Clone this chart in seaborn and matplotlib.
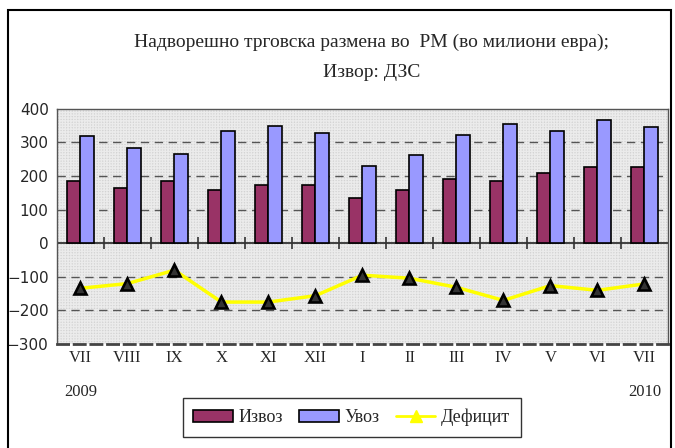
import numpy as np
import pandas as pd
import seaborn as sns
import matplotlib.pyplot as plt
from matplotlib.patches import Rectangle, Patch
from matplotlib.lines import Line2D

sns.set_style('white')

months = ['VII\n2009', 'VIII', 'IX', 'X', 'XI', 'XII', 'I', 'II', 'III',
          'IV', 'V', 'VI', 'VII\n2010']
izvoz = [186, 163, 186, 159, 173, 173, 136, 159, 190, 186, 208, 226, 226]
uvoz = [320, 283, 266, 334, 348, 329, 231, 263, 321, 356, 334, 366, 347]
deficit = [-134, -120, -80, -175, -175, -156, -95, -104, -131, -170, -126, -140, -121]

serif = 'Liberation Serif'
sans = 'DejaVu Sans'

df = pd.DataFrame({'month': months, 'Извоз': izvoz, 'Увоз': uvoz})
df = df.melt(id_vars='month', var_name='serija', value_name='vrednost')
df_def = pd.DataFrame({'month': months, 'deficit': deficit})

fig = plt.figure(figsize=(6.75, 4.48), dpi=100)
ax = fig.add_axes([0.0844, 0.232, 0.905, 0.525])

# textured grey background
ax.patch.set_facecolor('#d3d3d3')
ax.add_patch(Rectangle((0, 0), 1, 1, transform=ax.transAxes, facecolor='none',
                       edgecolor='#ebebeb', hatch='++++++', linewidth=0, zorder=0))

for y in [300, 200, 100, -100, -200]:
    ax.axhline(y, color='#555555', linestyle=(0, (6, 4)), linewidth=1.0, zorder=1)

sns.barplot(data=df, x='month', y='vrednost', hue='serija', order=months,
            palette=['#993366', '#9999ff'], width=0.58, edgecolor='black',
            linewidth=1.2, saturation=1, ax=ax, zorder=3, legend=False)

sns.pointplot(data=df_def, x='month', y='deficit', order=months, color='#ffff00',
              markers='^', linestyles='-', errorbar=None, ax=ax,
              markerfacecolor='#333333', markeredgecolor='black',
              markersize=8, linewidth=2.5, zorder=4)

ax.axhline(0, color='#333333', linewidth=1.3, zorder=2)
ax.set_xlim(-0.5, len(months) - 0.5)
ax.set_ylim(-300, 400)
ax.set_yticks([-300, -200, -100, 0, 100, 200, 300, 400])
ax.set_xlabel('')
ax.set_ylabel('')

for lab in ax.get_yticklabels():
    lab.set_fontfamily(sans)
    lab.set_fontsize(11)
ax.tick_params(axis='y', length=0, pad=6)
ax.tick_params(axis='x', length=0, pad=4)
ax.set_xticks(range(len(months)))
ax.set_xticklabels(months, fontfamily=serif, fontsize=12, linespacing=2.5,
                   va='top')

# separator ticks on the zero line
sec = ax.secondary_xaxis(3 / 7)
sec.set_xticks(np.arange(len(months) - 1) + 0.5)
sec.set_xticklabels([])
sec.tick_params(direction='inout', length=9, width=1.2, color='#333333')
sec.spines['bottom'].set_visible(False)
sec.spines['top'].set_visible(False)

for s in ['top', 'right', 'left']:
    ax.spines[s].set_color('#555555')
    ax.spines[s].set_linewidth(1)
ax.spines['bottom'].set_color('#444444')
ax.spines['bottom'].set_linewidth(2)
ax.spines['bottom'].set_linestyle((0, (4, 2)))

fig.text(0.551, 0.905, 'Надворешно трговска размена во  РМ (во милиони евра);',
         ha='center', va='center', fontfamily=serif, fontsize=14)
fig.text(0.551, 0.838, 'Извор: ДЗС', ha='center', va='center',
         fontfamily=serif, fontsize=14)

# outer frame
fig.patches.append(Rectangle((8 / 675, -0.05), 663 / 675, 1 - 10 / 448 + 0.05,
                             transform=fig.transFigure, fill=False,
                             edgecolor='black', linewidth=1.5))

handles = [Patch(facecolor='#993366', edgecolor='black', linewidth=1.2),
           Patch(facecolor='#9999ff', edgecolor='black', linewidth=1.2),
           Line2D([0], [0], color='#ffff00', linewidth=2, marker='^',
                  markersize=8, markerfacecolor='#ffff00', markeredgecolor='#ffff00')]
leg = fig.legend(handles, ['Извоз', 'Увоз', 'Дефицит'], ncol=3,
                 loc='upper center', bbox_to_anchor=(0.521, 0.112),
                 borderaxespad=0, frameon=True, fancybox=False, edgecolor='black',
                 prop={'family': serif, 'size': 13}, handlelength=2.2,
                 handletextpad=0.3, columnspacing=0.9, borderpad=0.6)
leg.get_frame().set_linewidth(1)

fig.savefig('out.png', dpi=100)
